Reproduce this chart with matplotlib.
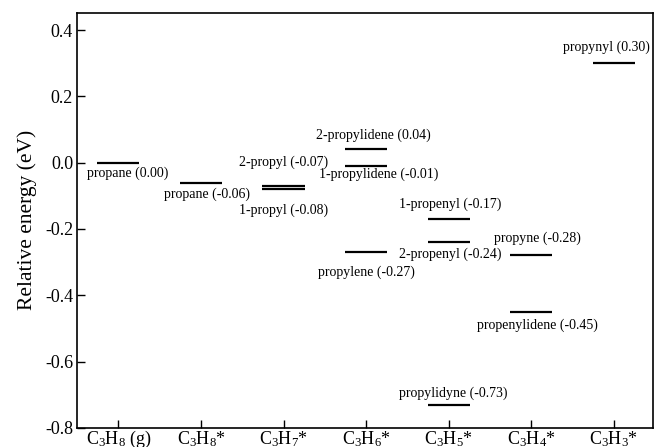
import matplotlib
matplotlib.use('Agg')
import matplotlib.pyplot as plt

plt.rcParams['font.family'] = 'Liberation Serif'
plt.rcParams['mathtext.fontset'] = 'custom'
plt.rcParams['mathtext.rm'] = 'Liberation Serif'
plt.rcParams['mathtext.it'] = 'Liberation Serif:italic'

# data
groups = ['$\\mathrm{C_3H_8}$ (g)', '$\\mathrm{C_3H_8}$*', '$\\mathrm{C_3H_7}$*', '$\\mathrm{C_3H_6}$*',
          '$\\mathrm{C_3H_5}$*', '$\\mathrm{C_3H_4}$*', '$\\mathrm{C_3H_3}$*']
group_idx = [0, 1, 2, 2, 3, 3, 3, 4, 4, 4, 5, 5, 6]
names = ['propane', 'propane', '2-propyl', '1-propyl', '2-propylidene', '1-propylidene',
         'propylene', '1-propenyl', '2-propenyl', 'propylidyne', 'propyne',
         'propenylidene', 'propynyl']
energies = [0.00, -0.06, -0.07, -0.08, 0.04, -0.01, -0.27, -0.17, -0.24, -0.73,
            -0.28, -0.45, 0.30]

# label offsets (dx in category units, dy in eV) -- layout only
label_dx = [0.11, 0.07, 0.0, 0.0, 0.09, 0.15, 0.01, 0.02, 0.02, 0.05, 0.08, 0.07, -0.09]
label_dy = [-0.033, -0.034, 0.07, -0.062, 0.042, -0.026, -0.06, 0.046, -0.036, 0.033, 0.053, -0.04, 0.048]

fig, ax = plt.subplots(figsize=(6.54, 4.47), dpi=100)
fig.subplots_adjust(left=0.118, right=0.999, top=0.971, bottom=0.043)

for g, n, e, dx, dy in zip(group_idx, names, energies, label_dx, label_dy):
    ax.hlines(e, g - 0.255, g + 0.255, colors='black', linewidth=1.6)
    ax.text(g + dx, e + dy, '%s (%.2f)' % (n, e), ha='center', va='center', fontsize=10)

ax.set_xlim(-0.5, 6.48)
ax.set_ylim(-0.8, 0.452)
ax.set_xticks(range(len(groups)))
ax.set_xticklabels(groups, fontsize=13)
ax.set_yticks([-0.8, -0.6, -0.4, -0.2, 0.0, 0.2, 0.4])
ax.set_yticklabels(['-0.8', '-0.6', '-0.4', '-0.2', '0.0', '0.2', '0.4'], fontsize=13)
ax.tick_params(direction='in', length=6, width=1, top=False, right=False, pad=3)
ax.tick_params(axis='x', pad=1)
ax.set_ylabel('Relative energy (eV)', fontsize=15.5, labelpad=6)
for s in ax.spines.values():
    s.set_linewidth(1.2)

plt.savefig('out.png', dpi=100)
